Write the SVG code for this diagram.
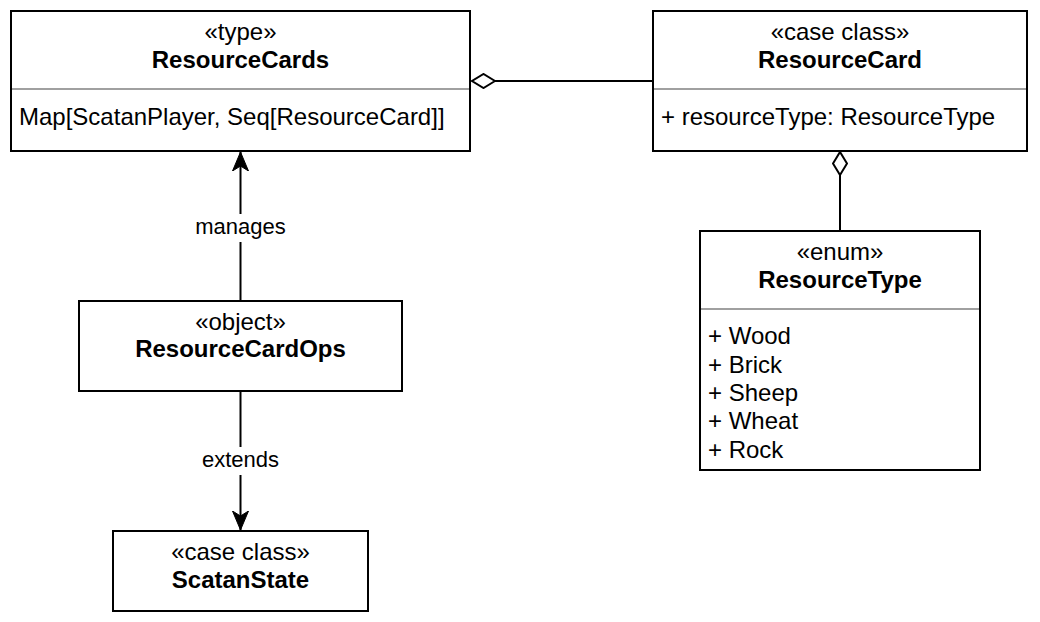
<svg xmlns="http://www.w3.org/2000/svg" width="1040" height="622" viewBox="0 0 1040 622">
<style>
.box{fill:#fff;stroke:#000;stroke-width:2}
.div{stroke:#a0a0a0;stroke-width:2}
.t{font-family:"Liberation Sans",Arial,Helvetica,sans-serif;font-size:24px;fill:#000}
.c{text-anchor:middle}
.b{font-weight:bold}
.edge{fill:none;stroke:#000;stroke-width:2}
.lbl{font-family:"Liberation Sans",Arial,Helvetica,sans-serif;font-size:22px;fill:#000;text-anchor:middle}
</style>
<defs>
<marker id="arrow" viewBox="0 0 20 18" refX="19" refY="9" markerWidth="20" markerHeight="18" markerUnits="userSpaceOnUse" orient="auto">
<path d="M19,9 L0,1 L5,9 L0,17 Z" fill="#000" stroke="#000" stroke-width="1"/>
</marker>
<marker id="diamond" viewBox="0 0 26 16" refX="24" refY="8" markerWidth="26" markerHeight="16" markerUnits="userSpaceOnUse" orient="auto">
<path d="M1,8 L12.5,1 L24,8 L12.5,15 Z" fill="#fff" stroke="#000" stroke-width="2"/>
</marker>
</defs>
<rect width="1040" height="622" fill="#fff"/>
<g id="ResourceCards">
<rect class="box" x="11" y="11" width="459" height="140"/>
<line class="div" x1="12" y1="89" x2="469" y2="89"/>
<text class="t c" x="240.5" y="40">«type»</text>
<text class="t c b" x="240.5" y="67.5">ResourceCards</text>
<text class="t" x="19" y="125">Map[ScatanPlayer, Seq[ResourceCard]]</text>
</g>
<g id="ResourceCard">
<rect class="box" x="653" y="11" width="374" height="140"/>
<line class="div" x1="654" y1="89" x2="1026" y2="89"/>
<text class="t c" x="840" y="40">«case class»</text>
<text class="t c b" x="840" y="67.5">ResourceCard</text>
<text class="t" x="661" y="125">+ resourceType: ResourceType</text>
</g>
<g id="ResourceType">
<rect class="box" x="700" y="231" width="280" height="239"/>
<line class="div" x1="701" y1="309" x2="979" y2="309"/>
<text class="t c" x="840" y="260">«enum»</text>
<text class="t c b" x="840" y="287.5">ResourceType</text>
<text class="t" x="708" y="344">+ Wood</text>
<text class="t" x="708" y="372.5">+ Brick</text>
<text class="t" x="708" y="401">+ Sheep</text>
<text class="t" x="708" y="429">+ Wheat</text>
<text class="t" x="708" y="457.5">+ Rock</text>
</g>
<g id="ResourceCardOps">
<rect class="box" x="79" y="301" width="323" height="90"/>
<text class="t c" x="240.5" y="329.5">«object»</text>
<text class="t c b" x="240.5" y="357">ResourceCardOps</text>
</g>
<g id="ScatanState">
<rect class="box" x="113" y="531" width="255" height="80"/>
<text class="t c" x="240.5" y="560">«case class»</text>
<text class="t c b" x="240.5" y="587.5">ScatanState</text>
</g>
<g id="connectors">
<path class="edge" d="M653,81 L472,81" marker-end="url(#diamond)"/>
<path class="edge" d="M840,231 L840,152" marker-end="url(#diamond)"/>
<path class="edge" d="M240.5,301 L240.5,152" marker-end="url(#arrow)"/>
<path class="edge" d="M240.5,391 L240.5,530" marker-end="url(#arrow)"/>
<rect x="190" y="214" width="101" height="28" fill="#fff"/>
<text class="lbl" x="240.5" y="234">manages</text>
<rect x="195" y="447" width="91" height="28" fill="#fff"/>
<text class="lbl" x="240.5" y="467">extends</text>
</g>
</svg>
